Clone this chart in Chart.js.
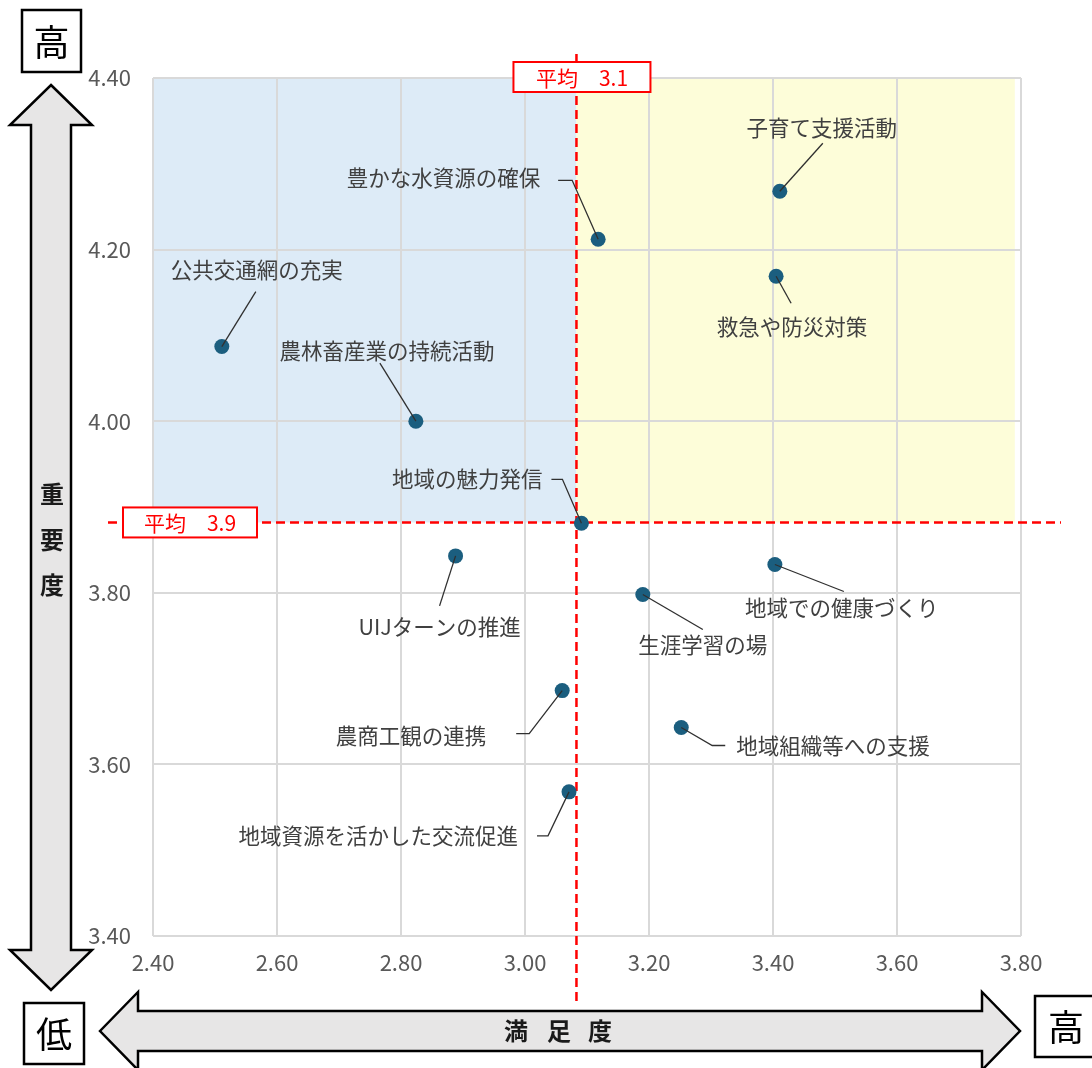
<!DOCTYPE html>
<html lang="ja">
<head>
<meta charset="utf-8">
<script src="https://cdn.jsdelivr.net/npm/chart.js@4.4.0/dist/chart.umd.min.js"></script>
<style>
  html, body { margin: 0; padding: 0; background: #ffffff; }
  #wrap { position: relative; width: 1092px; height: 1068px; }
</style>
</head>
<body>
<div id="wrap"><canvas id="c"></canvas></div>
<script>
// ---------------- data ----------------
const items = [
  '子育て支援活動',
  '豊かな水資源の確保',
  '救急や防災対策',
  '公共交通網の充実',
  '農林畜産業の持続活動',
  '地域の魅力発信',
  'UIJターンの推進',
  '地域での健康づくり',
  '生涯学習の場',
  '農商工観の連携',
  '地域組織等への支援',
  '地域資源を活かした交流促進'
];
const satisfaction = [3.411, 3.118, 3.405, 2.511, 2.824, 3.091, 2.888, 3.403, 3.190, 3.060, 3.252, 3.071];
const importance   = [4.268, 4.212, 4.169, 4.087, 4.000, 3.881, 3.843, 3.833, 3.798, 3.686, 3.643, 3.568];

const avgSatisfaction = 3.083;
const avgImportance = 3.882;
const avgSatisfactionLabel = '平均　3.1';
const avgImportanceLabel = '平均　3.9';

const xTickValues = [2.40, 2.60, 2.80, 3.00, 3.20, 3.40, 3.60, 3.80];
const yTickValues = [3.40, 3.60, 3.80, 4.00, 4.20, 4.40];

const xTitle = '満足度';
const yTitle = '重要度';
const highText = '高';
const lowText = '低';

// ---------------- layout (label offsets relative to each point, in px) ----------------
const labelLayout = [
  { leader: [[43, -48]],            text: [42, -63],  align: 'center' },
  { leader: [[-26, -59], [-40, -59]], text: [-58, -61], align: 'right' },
  { leader: [[15, 27]],             text: [16, 51],   align: 'center' },
  { leader: [[34, -55]],            text: [35, -77],  align: 'center' },
  { leader: [[-36, -58]],           text: [-29, -70], align: 'center' },
  { leader: [[-19, -44], [-30, -44]], text: [-39, -44], align: 'right' },
  { leader: [[-16, 50]],            text: [-16, 71],  align: 'center' },
  { leader: [[69, 27]],             text: [67, 43],   align: 'center' },
  { leader: [[60, 35]],             text: [60, 50],   align: 'center' },
  { leader: [[-33, 43], [-46, 43]], text: [-76, 45],  align: 'right' },
  { leader: [[31, 18], [44, 18]],   text: [55, 18],   align: 'left' },
  { leader: [[-21, 44], [-32, 44]], text: [-51, 44],  align: 'right' }
];

const FONT = '"Noto Sans CJK JP", "Noto Sans", sans-serif';
const RED = '#ff0000';

function arrowV(ctx, cx, top, bottom, shaftHalf, headHalf, headLen) {
  ctx.beginPath();
  ctx.moveTo(cx, top);
  ctx.lineTo(cx + headHalf, top + headLen);
  ctx.lineTo(cx + shaftHalf, top + headLen);
  ctx.lineTo(cx + shaftHalf, bottom - headLen);
  ctx.lineTo(cx + headHalf, bottom - headLen);
  ctx.lineTo(cx, bottom);
  ctx.lineTo(cx - headHalf, bottom - headLen);
  ctx.lineTo(cx - shaftHalf, bottom - headLen);
  ctx.lineTo(cx - shaftHalf, top + headLen);
  ctx.lineTo(cx - headHalf, top + headLen);
  ctx.closePath();
}
function arrowH(ctx, cy, left, right, shaftHalf, headHalf, headLen) {
  ctx.beginPath();
  ctx.moveTo(left, cy);
  ctx.lineTo(left + headLen, cy - headHalf);
  ctx.lineTo(left + headLen, cy - shaftHalf);
  ctx.lineTo(right - headLen, cy - shaftHalf);
  ctx.lineTo(right - headLen, cy - headHalf);
  ctx.lineTo(right, cy);
  ctx.lineTo(right - headLen, cy + headHalf);
  ctx.lineTo(right - headLen, cy + shaftHalf);
  ctx.lineTo(left + headLen, cy + shaftHalf);
  ctx.lineTo(left + headLen, cy + headHalf);
  ctx.closePath();
}
function boxText(ctx, x, y, w, h, text, font, color, border, lw) {
  ctx.save();
  ctx.fillStyle = '#ffffff';
  ctx.fillRect(x, y, w, h);
  ctx.lineWidth = lw;
  ctx.strokeStyle = border;
  ctx.strokeRect(x, y, w, h);
  ctx.fillStyle = color;
  ctx.font = font;
  ctx.textAlign = 'center';
  ctx.textBaseline = 'middle';
  ctx.fillText(text, x + w / 2, y + h / 2 + 1);
  ctx.restore();
}

const decor = {
  id: 'decor',
  beforeDraw(chart) {
    const { ctx, chartArea: a, scales: { x, y } } = chart;
    ctx.save();
    ctx.fillStyle = '#ffffff';
    ctx.fillRect(0, 0, chart.width, chart.height);
    const ax = x.getPixelForValue(avgSatisfaction);
    const ay = y.getPixelForValue(avgImportance);
    ctx.fillStyle = '#ddebf7';
    ctx.fillRect(a.left, a.top, ax - a.left, ay - a.top);
    ctx.fillStyle = '#fdfdd9';
    ctx.fillRect(ax, a.top, x.getPixelForValue(3.79) - ax, ay - a.top);
    ctx.restore();
  },
  beforeDatasetsDraw(chart) {
    const { ctx, chartArea: a, scales: { x, y } } = chart;
    const ax = x.getPixelForValue(avgSatisfaction);
    const ay = y.getPixelForValue(avgImportance);
    ctx.save();
    ctx.strokeStyle = RED;
    ctx.lineWidth = 2.5;
    ctx.setLineDash([9, 5]);
    ctx.beginPath();
    ctx.moveTo(ax, a.top - 24);
    ctx.lineTo(ax, a.bottom + 68);
    ctx.stroke();
    ctx.beginPath();
    ctx.moveTo(a.left - 45, ay);
    ctx.lineTo(a.right + 40, ay);
    ctx.stroke();
    ctx.restore();
  },
  afterDatasetsDraw(chart) {
    const { ctx, chartArea: a, scales: { x, y } } = chart;
    const meta = chart.getDatasetMeta(0);
    ctx.save();
    ctx.strokeStyle = '#303030';
    ctx.lineWidth = 1.3;
    ctx.fillStyle = '#404040';
    ctx.font = '21.5px ' + FONT;
    ctx.textBaseline = 'middle';
    meta.data.forEach((pt, i) => {
      const L = labelLayout[i];
      const px = pt.x, py = pt.y;
      ctx.beginPath();
      ctx.moveTo(px, py);
      L.leader.forEach(p => ctx.lineTo(px + p[0], py + p[1]));
      ctx.stroke();
      ctx.textAlign = L.align;
      ctx.fillText(items[i], px + L.text[0], py + L.text[1]);
    });
    ctx.restore();

    const ax = x.getPixelForValue(avgSatisfaction);
    const ay = y.getPixelForValue(avgImportance);
    boxText(ctx, ax - 63, a.top - 16, 137, 30, avgSatisfactionLabel, '21px ' + FONT, RED, RED, 2);
    boxText(ctx, a.left - 30, ay - 15, 134, 30, avgImportanceLabel, '21px ' + FONT, RED, RED, 2);
  },
  afterDraw(chart) {
    const { ctx } = chart;
    ctx.save();
    ctx.fillStyle = '#e7e6e6';
    ctx.strokeStyle = '#000000';
    ctx.lineWidth = 2.5;
    ctx.lineJoin = 'miter';
    arrowV(ctx, 51, 85, 990, 20, 41, 40);
    ctx.fill(); ctx.stroke();
    arrowH(ctx, 1031, 100, 1020, 20, 39, 38);
    ctx.fill(); ctx.stroke();

    ctx.fillStyle = '#1a1a1a';
    ctx.font = 'bold 24px ' + FONT;
    ctx.textAlign = 'center';
    ctx.textBaseline = 'middle';
    const yc = [494, 540, 585];
    [...yTitle].forEach((ch, i) => ctx.fillText(ch, 52, yc[i]));
    const xc = [516, 559, 600];
    [...xTitle].forEach((ch, i) => ctx.fillText(ch, xc[i], 1031));
    ctx.restore();

    boxText(ctx, 22, 10, 59, 62, highText, '36px ' + FONT, '#000', '#000', 2.5);
    boxText(ctx, 24, 1003, 60, 61, lowText, '36px ' + FONT, '#000', '#000', 2.5);
    boxText(ctx, 1035, 996, 62, 61, highText, '36px ' + FONT, '#000', '#000', 2.5);
  }
};

const points = satisfaction.map((v, i) => ({ x: v, y: importance[i] }));

new Chart(document.getElementById('c'), {
  type: 'scatter',
  data: {
    datasets: [{
      data: points,
      backgroundColor: '#1b5e7f',
      borderColor: '#1b5e7f',
      borderWidth: 0,
      pointRadius: 7.5,
      pointHoverRadius: 7.5
    }]
  },
  options: {
    responsive: true,
    maintainAspectRatio: false,
    devicePixelRatio: 1,
    animation: false,
    events: [],
    layout: { padding: { top: 78, right: 71, bottom: 82, left: 0 } },
    plugins: { legend: { display: false }, tooltip: { enabled: false } },
    scales: {
      x: {
        type: 'linear',
        min: 2.4, max: 3.8,
        afterBuildTicks: s => { s.ticks = xTickValues.map(v => ({ value: v })); },
        afterFit: s => { s.height = 50; },
        grid: { color: '#d9d9d9', lineWidth: 2, drawTicks: false },
        border: { display: false },
        ticks: { padding: 13, color: '#595959', font: { family: FONT, size: 22 },
                 callback: v => Number(v).toFixed(2), maxRotation: 0 }
      },
      y: {
        type: 'linear',
        min: 3.4, max: 4.4,
        afterBuildTicks: s => { s.ticks = yTickValues.map(v => ({ value: v })); },
        afterFit: s => { s.width = 153; },
        grid: { color: '#d9d9d9', lineWidth: 2, drawTicks: false },
        border: { display: false },
        ticks: { padding: 22, color: '#595959', font: { family: FONT, size: 22 },
                 callback: v => Number(v).toFixed(2) }
      }
    }
  },
  plugins: [decor]
});
</script>
</body>
</html>
